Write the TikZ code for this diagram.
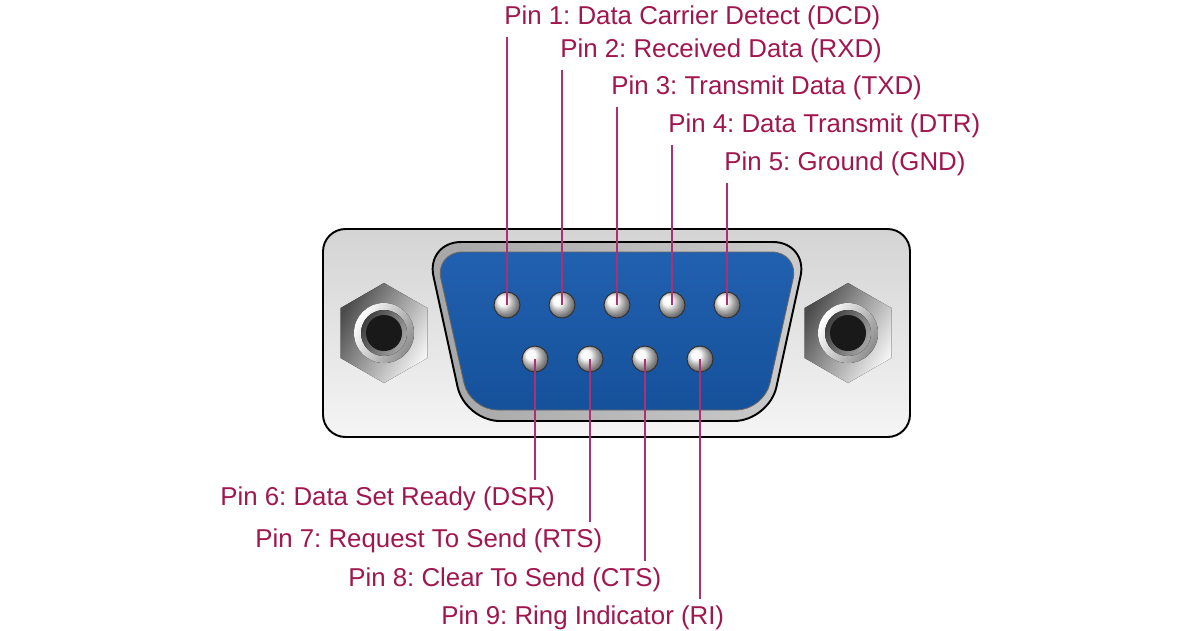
\documentclass[tikz,border=0pt]{standalone}
\usepackage{fontspec}
\setmainfont{Liberation Sans}
\frenchspacing
\definecolor{pinred}{RGB}{160,22,78}
\definecolor{wirered}{RGB}{172,48,115}
\definecolor{shellblue}{RGB}{24,90,172}
\tikzset{
  contact/.style={circle, minimum size=0.52cm, inner sep=0pt, ball color=black!3, draw=black!80, line width=0.6pt},
  lbl/.style={text=pinred, font=\fontsize{14.7}{17}\selectfont, inner sep=0pt, outer ysep=4pt},
  wire/.style={draw=wirered, line width=0.8pt},
}
\begin{document}
\begin{tikzpicture}[x=0.02cm, y=-0.02cm]
      \useasboundingbox (0,0) rectangle (1200,630);
      % plate
      \draw[line width=1.1pt, rounded corners=0.45cm, top color=black!17, bottom color=black!4]
        (323,229) rectangle (910,437);
      % nuts
      \coordinate (nL) at (384,333);
      \coordinate (nR) at (848,333);
      \foreach \c in {nL,nR} {
        \fill[left color=black!70, right color=black!5, shading angle=60]
          (\c) +(90:50) -- +(30:50) -- +(-30:50) -- +(-90:50) -- +(-150:50) -- +(150:50) -- cycle;
        \fill[left color=black!45, right color=white, shading angle=240] (\c) circle (30);
        \fill[left color=black!75, right color=black!35, shading angle=60] (\c) circle (23);
        \fill[black!90] (\c) circle (18);
      }
      % shell
      \draw[line width=1.1pt, rounded corners=0.7cm, left color=black!35, middle color=white, right color=black!20]
        (426,242) -- (808,242) -- (769,421) -- (465,421) -- cycle;
      \draw[black!60, line width=0.5pt, rounded corners=0.55cm, top color=shellblue!96!white, bottom color=shellblue!90!black]
        (435,252) -- (799,252) -- (764,410) -- (470,410) -- cycle;
      % pins
      \node[contact] (1) at (507,305) {};
      \node[contact] (2) at (562,305) {};
      \node[contact] (3) at (617,305) {};
      \node[contact] (4) at (672,305) {};
      \node[contact] (5) at (727,305) {};
      \node[contact] (6) at (535,359) {};
      \node[contact] (7) at (590,359) {};
      \node[contact] (8) at (645,359) {};
      \node[contact] (9) at (700,359) {};
      % labels
      \node[lbl, anchor=south west] (t1) at (504,37) {Pin 1: Data Carrier Detect (DCD)};
      \node[lbl, anchor=south west] (t2) at (560,70) {Pin 2: Received Data (RXD)};
      \node[lbl, anchor=south west] (t3) at (611,107) {Pin 3: Transmit Data (TXD)};
      \node[lbl, anchor=south west] (t4) at (668,145) {Pin 4: Data Transmit (DTR)};
      \node[lbl, anchor=south west] (t5) at (724,183) {Pin 5: Ground (GND)};
      \node[lbl, anchor=north west] (t6) at (220,480) {Pin 6: Data Set Ready (DSR)};
      \node[lbl, anchor=north west] (t7) at (255,522) {Pin 7: Request To Send (RTS)};
      \node[lbl, anchor=north west] (t8) at (348,561) {Pin 8: Clear To Send (CTS)};
      \node[lbl, anchor=north west] (t9) at (441,599) {Pin 9: Ring Indicator (RI)};
      \begin{scope}[wire]
        \draw (1.center) to (1 |- t1.south);
        \draw (2.center) to (2 |- t2.south);
        \draw (3.center) to (3 |- t3.south);
        \draw (4.center) to (4 |- t4.south);
        \draw (5.center) to (5 |- t5.south);
        \draw (6.center) to (6 |- t6.north);
        \draw (7.center) to (7 |- t7.north);
        \draw (8.center) to (8 |- t8.north);
        \draw (9.center) to (9 |- t9.north);
      \end{scope}
    \end{tikzpicture}
\end{document}
